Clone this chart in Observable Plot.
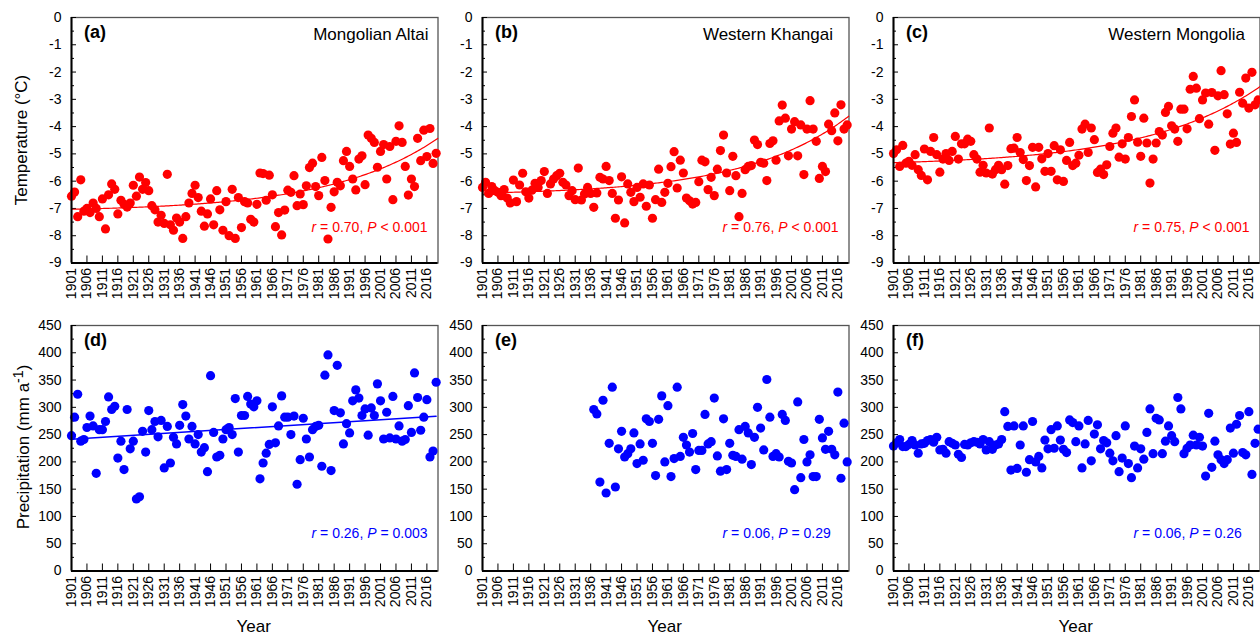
<!DOCTYPE html>
<html><head><meta charset="utf-8">
<script src="https://cdn.jsdelivr.net/npm/d3@7"></script>
<script src="https://cdn.jsdelivr.net/npm/@observablehq/plot@0.6"></script>
<style>
html,body{margin:0;padding:0;background:#fff;overflow:hidden;}
#root{position:relative;width:1260px;height:637px;font-family:"Liberation Sans",Arial,sans-serif;color:#000;}
.panel{position:absolute;}
.panel svg{overflow:visible;}
.lab{position:absolute;white-space:nowrap;font-size:17px;transform:translate(-50%,-50%);}
.lab.rot{transform:translate(-50%,-50%) rotate(-90deg);}
</style></head><body><div id="root"></div>
<script>
// ---------------- data ----------------
const years = d3.range(1901, 2020);
const yearsE = d3.range(1937, 2020);
const xTicks = d3.range(1901, 2017, 5);
const tempTicks = d3.range(-9, 1);
const tempMinor = d3.range(-8.5, 0, 1);
const precTicks = d3.range(0, 451, 50);
const precMinor = d3.range(25, 450, 50);

const tempAltai = [
 -6.55,-6.4,-7.3,-5.95,-7.1,-7.0,-7.15,-6.8,-7.0,-7.3,
 -6.65,-7.75,-6.5,-6.1,-6.3,-7.2,-6.7,-6.85,-6.95,-6.8,
 -6.15,-6.55,-5.85,-6.3,-6.05,-6.35,-6.9,-7.05,-7.5,-7.25,
 -7.55,-5.75,-7.6,-7.8,-7.35,-7.5,-8.1,-7.3,-6.8,-6.45,
 -6.15,-6.6,-7.1,-7.65,-7.2,-6.65,-7.6,-6.35,-7.05,-7.8,
 -6.75,-8.0,-6.3,-8.1,-6.6,-7.7,-6.75,-6.8,-7.4,-7.5,
 -6.85,-5.7,-5.72,-6.7,-5.78,-6.5,-7.67,-7.15,-7.97,-7.06,
 -6.33,-6.41,-5.8,-6.9,-6.47,-6.86,-6.17,-5.5,-5.34,-6.2,
 -6.53,-5.13,-5.98,-8.12,-6.96,-6.39,-6.04,-6.17,-5.25,-4.91,
 -5.46,-5.92,-6.32,-5.19,-5.07,-6.13,-4.31,-4.43,-4.58,-5.49,
 -4.91,-4.66,-5.92,-4.73,-6.68,-4.54,-3.97,-4.58,-5.46,-6.51,
 -5.92,-6.2,-4.43,-5.25,-4.13,-5.1,-4.07,-5.35,-4.98];
const tempKhangai = [
 -6.23,-6.04,-6.45,-6.2,-6.35,-6.41,-6.53,-6.31,-6.62,-6.8,
 -5.96,-6.75,-6.14,-5.71,-6.39,-6.62,-6.33,-6.08,-6.23,-5.98,
 -5.65,-6.45,-6.1,-5.92,-5.8,-5.71,-6.04,-6.14,-6.53,-6.35,
 -6.68,-5.52,-6.69,-6.47,-6.23,-6.45,-6.96,-6.43,-5.86,-5.92,
 -5.46,-5.98,-6.45,-7.36,-6.69,-5.84,-7.53,-6.1,-6.41,-6.75,
 -6.23,-6.59,-6.1,-6.92,-6.14,-7.36,-6.68,-5.56,-6.78,-6.41,
 -6.08,-5.47,-4.92,-6.25,-5.23,-5.70,-6.62,-6.72,-6.84,-6.78,
 -6.02,-5.23,-5.29,-6.31,-5.86,-6.53,-5.56,-4.88,-4.31,-5.70,
 -6.35,-5.09,-5.80,-7.30,-6.45,-5.58,-5.46,-5.43,-4.49,-4.66,
 -5.31,-5.34,-5.98,-4.62,-4.52,-5.23,-3.79,-3.21,-3.69,-5.07,
 -4.09,-3.82,-5.07,-3.94,-5.76,-4.09,-3.05,-4.09,-4.54,-5.90,
 -5.46,-5.65,-3.91,-4.15,-3.50,-4.52,-3.20,-4.09,-3.94];
const tempWestern = [
 -4.99,-4.85,-5.46,-4.69,-5.34,-5.27,-5.42,-5.03,-5.58,-5.79,
 -4.82,-5.95,-4.91,-4.40,-5.03,-5.67,-5.19,-4.99,-5.24,-4.91,
 -4.36,-5.19,-4.63,-4.63,-4.46,-4.54,-5.03,-5.19,-5.67,-5.42,
 -5.70,-4.05,-5.74,-5.58,-5.42,-5.58,-6.11,-5.43,-4.81,-4.79,
 -4.40,-4.95,-5.21,-5.98,-5.43,-4.76,-6.21,-4.76,-5.18,-5.64,
 -4.99,-5.64,-4.70,-5.95,-4.85,-6.01,-5.24,-4.58,-5.43,-5.34,
 -5.05,-4.09,-3.91,-4.95,-4.05,-4.48,-5.68,-5.56,-5.76,-5.40,
 -4.73,-4.24,-4.05,-5.12,-4.63,-5.19,-4.40,-3.63,-3.02,-4.57,
 -5.09,-3.69,-4.60,-6.07,-5.19,-4.60,-4.18,-4.31,-3.48,-3.26,
 -3.97,-4.09,-4.54,-3.36,-3.36,-4.08,-2.63,-2.16,-2.59,-3.71,
 -3.02,-2.77,-3.91,-2.75,-4.87,-2.87,-1.95,-2.83,-3.53,-4.64,
 -4.24,-4.58,-2.74,-3.14,-2.22,-3.32,-2.01,-3.2,-3.02];
const precAltai = [
 248,282,324,238,241,263,284,266,179,259,
 259,274,319,296,302,207,238,186,296,224,
 238,132,136,256,218,294,259,274,246,276,
 189,265,198,245,233,267,305,284,242,265,
 233,250,218,226,182,358,254,209,212,242,
 259,263,250,316,218,285,285,320,306,301,
 312,169,198,216,232,301,235,266,321,282,
 282,250,284,159,204,280,242,209,259,265,
 267,192,359,396,184,294,377,290,233,270,
 253,312,332,317,285,297,249,299,285,343,
 312,242,291,244,320,242,266,238,241,303,
 254,363,318,258,282,314,209,220,346];
const precKhangai = [
 296,288,163,313,143,234,337,154,224,256,
 209,215,224,253,197,233,203,279,274,234,
 175,278,321,200,303,173,206,337,210,245,
 231,218,252,186,221,221,287,233,237,317,
 211,183,279,186,234,212,210,259,205,265,
 253,195,245,300,262,222,351,282,210,215,
 209,287,276,201,198,149,310,171,241,200,
 213,173,173,278,244,223,256,223,213,328,
 170,271,200];
const precWestern = [
 229,235,241,228,228,232,239,231,216,233,
 234,239,241,236,245,222,223,216,237,234,
 231,214,208,232,231,235,237,236,233,241,
 222,237,223,231,233,241,292,265,185,266,
 188,231,266,181,204,274,200,210,189,240,
 224,259,225,266,240,223,217,277,272,237,
 266,189,233,276,202,251,268,224,239,235,
 216,202,248,182,207,266,197,171,229,189,
 224,205,254,297,215,280,277,215,238,266,
 248,237,318,297,215,225,231,249,231,245,
 229,174,289,190,238,213,204,197,204,262,
 216,269,285,217,213,292,177,234,260];

const tags = ["(a)","(b)","(c)","(d)","(e)","(f)"];
const regions = ["Mongolian Altai","Western Khangai","Western Mongolia"];
const stats = ["r = 0.70, P < 0.001","r = 0.76, P < 0.001","r = 0.75, P < 0.001",
               "r = 0.26, P = 0.003","r = 0.06, P = 0.29","r = 0.06, P = 0.26"];
const yTitles = ["Temperature (°C)", "Precipitation (mm a<sup>-1</sup>)"];
const xTitle = "Year";

// ---------------- layout ----------------
const RED = "#ff0000", BLUE = "#0000ff";
const colLeft = [70.5, 481.5, 892.5];
const rowTop = [17, 324.5];
const FW = 366.5, FH = 245.5;
const ML = 60, MR = 4, MT = 4, MB = 52;
const xDomain = [1901, 2019.6];
const regionDx = [-9.5, -16, -15];

// exponential trend y = a + b*exp(c*(x - x0)), fitted by least squares (grid over c)
function expFit(xs, ys) {
  const x0 = xs[0];
  let best = null;
  for (let c = 0.002; c <= 0.15; c += 0.0005) {
    const e = xs.map(x => Math.exp(c * (x - x0)));
    const me = d3.mean(e), my = d3.mean(ys);
    let sxy = 0, sxx = 0;
    e.forEach((v, i) => { sxy += (v - me) * (ys[i] - my); sxx += (v - me) * (v - me); });
    const b = sxy / sxx, a = my - b * me;
    let sse = 0;
    e.forEach((v, i) => { const r = ys[i] - (a + b * v); sse += r * r; });
    if (!best || sse < best.sse) best = {a, b, c, sse};
  }
  return x => best.a + best.b * Math.exp(best.c * (x - x0));
}

const root = document.getElementById("root");

function italicize(svg) {
  d3.select(svg).selectAll("text").each(function() {
    const s = this.textContent;
    const m = s.match(/^r( = [^,]+, )P( .+)$/);
    if (!m) return;
    const t = d3.select(this);
    t.text(null);
    t.append("tspan").attr("font-style", "italic").text("r");
    t.append("tspan").text(m[1]);
    t.append("tspan").attr("font-style", "italic").text("P");
    t.append("tspan").text(m[2]);
  });
}

function panel(i) {
  const row = Math.floor(i / 3), col = i % 3;
  const isTemp = row === 0;
  const color = isTemp ? RED : BLUE;
  const xs = (i === 4) ? yearsE : years;
  const vals = [tempAltai, tempKhangai, tempWestern, precAltai, precKhangai, precWestern][i];
  const rows = xs.map((x, k) => ({year: x, value: vals[k]}));
  const yDomain = isTemp ? [-9, 0] : [0, 450];
  const yMajor = isTemp ? tempTicks : precTicks;
  const yMinor = isTemp ? tempMinor : precMinor;

  const trend = [];
  if (isTemp) {
    const f = expFit(xs, vals);
    const fx = d3.range(xDomain[0], xDomain[1] + 0.01, 0.5);
    trend.push(Plot.line(fx.map(x => ({year: x, value: f(x)})), {x: "year", y: "value", stroke: color, strokeWidth: 1.2}));
  } else if (i === 3) {
    trend.push(Plot.linearRegressionY(rows, {x: "year", y: "value", stroke: color, strokeWidth: 1.4, ci: 0}));
  }

  const marks = [
    Plot.frame({stroke: "#555", strokeWidth: 1.3}),
    Plot.tickY(yMinor, {y: d => d, insetRight: FW - 3, stroke: "#000"}),
    Plot.tickY(yMajor, {y: d => d, insetRight: FW - 5, stroke: "#000"}),
    Plot.tickX(xTicks, {x: d => d, insetTop: FH - 7, stroke: "#000"}),
    Plot.axisY(yMajor, {tickSize: 0, tickPadding: 10, fontSize: 14, tickFormat: d => String(d), label: null}),
    Plot.axisX(xTicks, {tickSize: 0, tickPadding: 5, tickRotate: -90, fontSize: 14, tickFormat: d => String(d), label: null}),
    Plot.dot(rows, {x: "year", y: "value", r: 4.6, fill: color, stroke: "none"}),
    ...trend,
    Plot.ruleX([xDomain[0]], {stroke: "#000", strokeWidth: 2}),
    Plot.ruleY([yDomain[0]], {stroke: "#000", strokeWidth: 2}),
    Plot.text([tags[i]], {text: d => d, frameAnchor: "top-left", dx: 12.5, dy: 8, lineAnchor: "top", textAnchor: "start", fontSize: 18, fontWeight: "bold"}),
    Plot.text([stats[i]], {text: d => d, frameAnchor: "bottom-right", dx: -126.5, dy: isTemp ? -31 : -33, lineAnchor: "bottom", textAnchor: "start", fontSize: 14, fill: color})
  ];
  if (isTemp) {
    marks.push(Plot.text([regions[col]], {text: d => d, frameAnchor: "top-right", dx: regionDx[col], dy: 10, lineAnchor: "top", textAnchor: "end", fontSize: 17}));
  }

  const svg = Plot.plot({
    width: FW + ML + MR,
    height: FH + MT + MB,
    marginLeft: ML, marginRight: MR, marginTop: MT, marginBottom: MB,
    style: {fontFamily: "'Liberation Sans', Arial, sans-serif", background: "transparent", color: "#000", overflow: "visible"},
    x: {domain: xDomain},
    y: {domain: yDomain},
    marks
  });
  italicize(svg);
  const div = document.createElement("div");
  div.className = "panel";
  div.style.left = (colLeft[col] - ML) + "px";
  div.style.top = (rowTop[row] - MT) + "px";
  div.style.width = (FW + ML + MR) + "px";
  div.appendChild(svg);
  root.appendChild(div);
}

for (let i = 0; i < 6; i++) panel(i);

// axis titles
function addLabel(html, x, y, rot) {
  const d = document.createElement("div");
  d.className = "lab" + (rot ? " rot" : "");
  d.style.left = x + "px";
  d.style.top = y + "px";
  d.innerHTML = html;
  root.appendChild(d);
}
addLabel(yTitles[0], 22, rowTop[0] + FH / 2, true);
addLabel(yTitles[1], 22, rowTop[1] + FH / 2, true);
colLeft.forEach(l => addLabel(xTitle, l + FW / 2, 627, false));
</script>
</body></html>
